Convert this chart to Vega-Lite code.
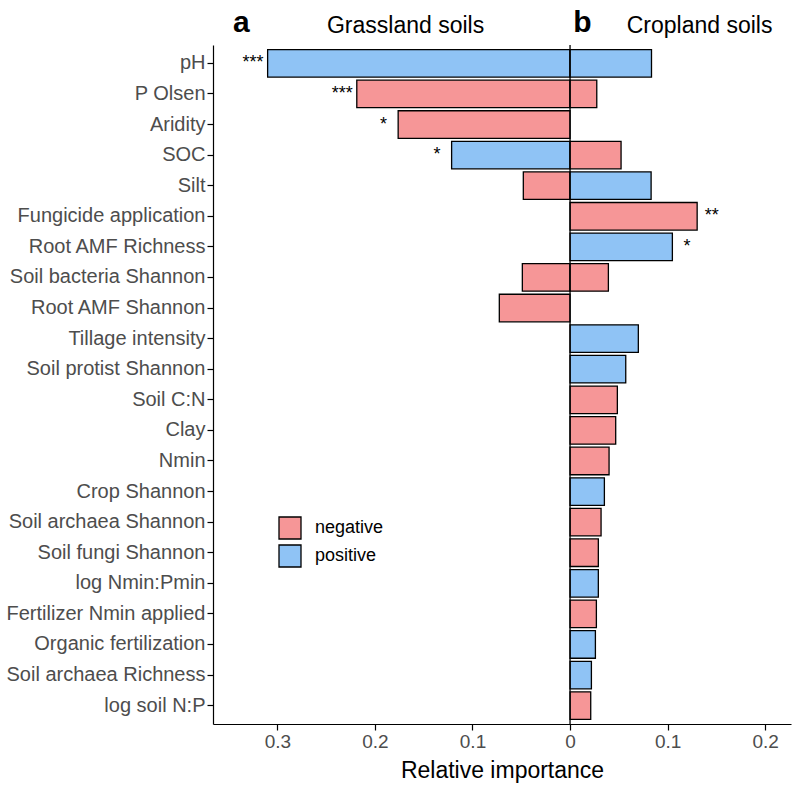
{
  "$schema": "https://vega.github.io/schema/vega-lite/v6.json",
  "autosize": "none",
  "padding": {"left": 213, "top": 45, "right": 9, "bottom": 66},
  "width": 578,
  "height": 679,
  "background": "white",
  "config": {
    "view": {"stroke": null},
    "font": "Liberation Sans",
    "axis": {"grid": false, "domainColor": "black", "tickColor": "black", "domainWidth": 1.2, "tickWidth": 1.2, "labelColor": "#4D4D4D", "labelFont": "Liberation Sans", "titleFont": "Liberation Sans", "titleFontWeight": "normal", "titleColor": "black"}
  },
  "data": {
    "values": [
      {"variable": "pH", "system": "Grassland", "importance": -0.310, "direction": "positive", "sig": "***"},
      {"variable": "pH", "system": "Cropland", "importance": 0.0835, "direction": "positive", "sig": ""},
      {"variable": "P Olsen", "system": "Grassland", "importance": -0.2186, "direction": "negative", "sig": "***"},
      {"variable": "P Olsen", "system": "Cropland", "importance": 0.0274, "direction": "negative", "sig": ""},
      {"variable": "Aridity", "system": "Grassland", "importance": -0.1762, "direction": "negative", "sig": "*"},
      {"variable": "SOC", "system": "Grassland", "importance": -0.1214, "direction": "positive", "sig": "*"},
      {"variable": "SOC", "system": "Cropland", "importance": 0.0523, "direction": "negative", "sig": ""},
      {"variable": "Silt", "system": "Grassland", "importance": -0.0479, "direction": "negative", "sig": ""},
      {"variable": "Silt", "system": "Cropland", "importance": 0.0831, "direction": "positive", "sig": ""},
      {"variable": "Fungicide application", "system": "Cropland", "importance": 0.1303, "direction": "negative", "sig": "**"},
      {"variable": "Root AMF Richness", "system": "Cropland", "importance": 0.1049, "direction": "positive", "sig": "*"},
      {"variable": "Soil bacteria Shannon", "system": "Grassland", "importance": -0.0489, "direction": "negative", "sig": ""},
      {"variable": "Soil bacteria Shannon", "system": "Cropland", "importance": 0.0393, "direction": "negative", "sig": ""},
      {"variable": "Root AMF Shannon", "system": "Grassland", "importance": -0.0725, "direction": "negative", "sig": ""},
      {"variable": "Tillage intensity", "system": "Cropland", "importance": 0.0700, "direction": "positive", "sig": ""},
      {"variable": "Soil protist Shannon", "system": "Cropland", "importance": 0.0571, "direction": "positive", "sig": ""},
      {"variable": "Soil C:N", "system": "Cropland", "importance": 0.0485, "direction": "negative", "sig": ""},
      {"variable": "Clay", "system": "Cropland", "importance": 0.0468, "direction": "negative", "sig": ""},
      {"variable": "Nmin", "system": "Cropland", "importance": 0.0400, "direction": "negative", "sig": ""},
      {"variable": "Crop Shannon", "system": "Cropland", "importance": 0.0352, "direction": "positive", "sig": ""},
      {"variable": "Soil archaea Shannon", "system": "Cropland", "importance": 0.0318, "direction": "negative", "sig": ""},
      {"variable": "Soil fungi Shannon", "system": "Cropland", "importance": 0.0290, "direction": "negative", "sig": ""},
      {"variable": "log Nmin:Pmin", "system": "Cropland", "importance": 0.0290, "direction": "positive", "sig": ""},
      {"variable": "Fertilizer Nmin applied", "system": "Cropland", "importance": 0.0270, "direction": "negative", "sig": ""},
      {"variable": "Organic fertilization", "system": "Cropland", "importance": 0.0260, "direction": "positive", "sig": ""},
      {"variable": "Soil archaea Richness", "system": "Cropland", "importance": 0.0219, "direction": "positive", "sig": ""},
      {"variable": "log soil N:P", "system": "Cropland", "importance": 0.0212, "direction": "negative", "sig": ""}
    ]
  },
  "encoding": {
    "y": {
      "field": "variable",
      "type": "nominal",
      "sort": ["pH", "P Olsen", "Aridity", "SOC", "Silt", "Fungicide application", "Root AMF Richness", "Soil bacteria Shannon", "Root AMF Shannon", "Tillage intensity", "Soil protist Shannon", "Soil C:N", "Clay", "Nmin", "Crop Shannon", "Soil archaea Shannon", "Soil fungi Shannon", "log Nmin:Pmin", "Fertilizer Nmin applied", "Organic fertilization", "Soil archaea Richness", "log soil N:P"],
      "scale": {"paddingInner": 0.1, "paddingOuter": 0.15},
      "axis": {"title": null, "labelFontSize": 20, "labelLimit": 400, "tickSize": 6, "labelPadding": 2}
    }
  },
  "layer": [
    {
      "mark": {"type": "bar", "stroke": "black", "strokeWidth": 1.3},
      "encoding": {
        "x": {
          "field": "importance",
          "type": "quantitative",
          "stack": null,
          "scale": {"domain": [-0.366, 0.2265], "nice": false, "zero": false},
          "axis": {
            "title": "Relative importance",
            "titleFontSize": 23,
            "titlePadding": 8,
            "labelFontSize": 19,
            "tickSize": 6,
            "labelPadding": 2,
            "values": [-0.3, -0.2, -0.1, 0, 0.1, 0.2],
            "labelExpr": "datum.value == 0 ? '0' : format(abs(datum.value), '.1f')"
          }
        },
        "fill": {
          "field": "direction",
          "type": "nominal",
          "scale": {"domain": ["negative", "positive"], "range": ["#F69697", "#8FC3F5"]},
          "legend": {
            "title": null,
            "orient": "none",
            "legendX": 65,
            "legendY": 471,
            "padding": 0,
            "symbolType": "square",
            "symbolSize": 484,
            "symbolStrokeColor": "black",
            "symbolStrokeWidth": 1.3,
            "symbolOpacity": 1,
            "rowPadding": 0,
            "labelFontSize": 18,
            "labelColor": "black",
            "labelOffset": 13
          }
        }
      }
    },
    {
      "transform": [{"filter": "datum.system == 'Grassland' && datum.sig != ''"}],
      "mark": {"type": "text", "align": "center", "baseline": "middle", "dx": -14.6, "dy": 0, "fontSize": 18, "color": "black"},
      "encoding": {
        "x": {"field": "importance", "type": "quantitative"},
        "text": {"field": "sig"}
      }
    },
    {
      "transform": [{"filter": "datum.system == 'Cropland' && datum.sig != ''"}],
      "mark": {"type": "text", "align": "center", "baseline": "middle", "dx": 14.6, "dy": 0, "fontSize": 18, "color": "black"},
      "encoding": {
        "x": {"field": "importance", "type": "quantitative"},
        "text": {"field": "sig"}
      }
    },
    {
      "data": {"values": [{"label": "zero"}]},
      "mark": {"type": "rule", "color": "black", "strokeWidth": 1.3},
      "encoding": {"x": {"datum": 0}, "y": {"value": 0}, "y2": {"value": 679}}
    },
    {
      "data": {"values": [{"label": "a"}]},
      "mark": {"type": "text", "align": "center", "baseline": "alphabetic", "fontSize": 30, "fontWeight": "bold", "color": "black"},
      "encoding": {"x": {"datum": -0.337}, "y": {"value": -13}, "text": {"field": "label"}}
    },
    {
      "data": {"values": [{"label": "Grassland soils"}]},
      "mark": {"type": "text", "align": "center", "baseline": "alphabetic", "fontSize": 23, "color": "black"},
      "encoding": {"x": {"datum": -0.1686}, "y": {"value": -12}, "text": {"field": "label"}}
    },
    {
      "data": {"values": [{"label": "b"}]},
      "mark": {"type": "text", "align": "center", "baseline": "alphabetic", "fontSize": 30, "fontWeight": "bold", "color": "black"},
      "encoding": {"x": {"datum": 0.0128}, "y": {"value": -13}, "text": {"field": "label"}}
    },
    {
      "data": {"values": [{"label": "Cropland soils"}]},
      "mark": {"type": "text", "align": "center", "baseline": "alphabetic", "fontSize": 23, "color": "black"},
      "encoding": {"x": {"datum": 0.1328}, "y": {"value": -12}, "text": {"field": "label"}}
    }
  ]
}
